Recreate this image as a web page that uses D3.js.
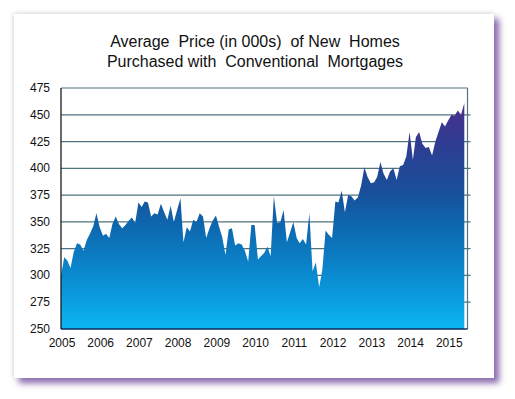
<!DOCTYPE html>
<html>
<head>
<meta charset="utf-8">
<script src="https://cdn.jsdelivr.net/npm/d3@7"></script>
<style>
  html, body { margin: 0; padding: 0; background: #fff; }
  svg { display: block; font-family: Arial, "Liberation Sans", sans-serif; }
</style>
</head>
<body>
<div id="chart"></div>
<script>
// monthly average price (000s), Jan 2005 .. Jun 2015
const prices2005 = [300, 317, 314, 307, 322, 330, 329, 323, 333, 339, 346, 358];
const prices2006 = [345, 337, 339, 335, 348, 355, 348, 344, 347, 351, 354, 349];
const prices2007 = [368, 364, 369, 368, 355, 358, 357, 367, 359, 352, 365, 350];
const prices2008 = [361, 372, 331, 345, 341, 352, 350, 358, 355, 335, 344, 351];
const prices2009 = [356, 345, 336, 319, 343, 344, 328, 330, 329, 323, 313, 347];
const prices2010 = [347, 315, 318, 321, 327, 318, 374, 349, 350, 361, 331, 340];
const prices2011 = [350, 335, 330, 334, 329, 358, 304, 312, 289, 305, 342, 338];
const prices2012 = [335, 369, 368, 379, 359, 375, 374, 370, 373, 384, 401, 392];
const prices2013 = [386, 387, 392, 406, 395, 389, 397, 400, 389, 402, 403, 411];
const prices2014 = [434, 408, 429, 434, 423, 419, 420, 412, 425, 434, 443, 439];
const prices2015 = [445, 450, 449, 454, 450, 461];

const years = [2005, 2006, 2007, 2008, 2009, 2010, 2011, 2012, 2013, 2014, 2015];
const yTicks = [250, 275, 300, 325, 350, 375, 400, 425, 450, 475];
const titleLines = ["Average  Price (in 000s)  of New  Homes", "Purchased with  Conventional  Mortgages"];

const allPrices = [].concat(prices2005, prices2006, prices2007, prices2008, prices2009,
  prices2010, prices2011, prices2012, prices2013, prices2014, prices2015);
const data = allPrices.map((v, i) => ({ date: new Date(2005, i, 1), value: v }));

const width = 515, height = 399;
const plot = { left: 61, right: 467.5, top: 88, bottom: 329 };

const svg = d3.select("#chart").append("svg")
  .attr("width", width)
  .attr("height", height);

const defs = svg.append("defs");

// 卡片阴影：左上浅灰，右下紫色
const shadow = defs.append("filter")
  .attr("id", "cardShadow")
  .attr("x", "-10%").attr("y", "-10%")
  .attr("width", "120%").attr("height", "120%");
shadow.append("feDropShadow")
  .attr("dx", -1).attr("dy", -1)
  .attr("stdDeviation", 2.5)
  .attr("flood-color", "#999")
  .attr("flood-opacity", 0.3);
shadow.append("feDropShadow")
  .attr("dx", 5).attr("dy", 5)
  .attr("stdDeviation", 3.2)
  .attr("flood-color", "#7b5aa6")
  .attr("flood-opacity", 0.9);

svg.append("rect")
  .attr("x", 14).attr("y", 14)
  .attr("width", 480).attr("height", 364)
  .attr("fill", "white")
  .attr("filter", "url(#cardShadow)");

const x = d3.scaleTime()
  .domain([new Date(2005, 0, 1), new Date(2015, 6, 1)])
  .range([plot.left, plot.right]);

const y = d3.scaleLinear()
  .domain([250, 475])
  .range([plot.bottom, plot.top]);

// 面积的竖向渐变
const grad = defs.append("linearGradient")
  .attr("id", "areaGrad")
  .attr("gradientUnits", "userSpaceOnUse")
  .attr("x1", 0).attr("x2", 0)
  .attr("y1", y(250)).attr("y2", y(465));
[
  [0, "#0bb6f2"],
  [0.22, "#0a8cd2"],
  [0.45, "#0d67ae"],
  [0.6, "#194f9a"],
  [0.8, "#2e3d92"],
  [1, "#4c2c8b"]
].forEach(([o, c]) => grad.append("stop").attr("offset", o).attr("stop-color", c));

// 网格线（在面积下方）
svg.append("g")
  .selectAll("line")
  .data(yTicks.filter(d => d > 250 && d < 475))
  .enter()
  .append("line")
  .attr("x1", plot.left)
  .attr("x2", plot.right + 3)
  .attr("y1", d => y(d))
  .attr("y2", d => y(d))
  .attr("stroke", "#4f747e")
  .attr("stroke-width", 1.2);

const area = d3.area()
  .x(d => x(d.date))
  .y0(y(250))
  .y1(d => y(d.value));

svg.append("path")
  .datum(data)
  .attr("d", area)
  .attr("fill", "url(#areaGrad)");

// 边框
const frame = [
  [plot.left, plot.top, plot.right, plot.top, "#4f747e", 1.2],
  [plot.right, plot.top, plot.right, plot.bottom, "#4f747e", 1.2],
  [plot.left, plot.top, plot.left, plot.bottom, "#1b1b1b", 1.3],
  [plot.left, plot.bottom, plot.right, plot.bottom, "#0b2a66", 1.5]
];
svg.append("g")
  .selectAll("line")
  .data(frame)
  .enter()
  .append("line")
  .attr("x1", d => d[0]).attr("y1", d => d[1])
  .attr("x2", d => d[2]).attr("y2", d => d[3])
  .attr("stroke", d => d[4])
  .attr("stroke-width", d => d[5]);

// y 轴标签
svg.append("g")
  .selectAll("text")
  .data(yTicks)
  .enter()
  .append("text")
  .attr("x", 50)
  .attr("y", d => y(d) + 4)
  .attr("text-anchor", "end")
  .attr("font-size", "12px")
  .attr("fill", "#111")
  .text(d => d);

// x 轴标签
svg.append("g")
  .selectAll("text")
  .data(years)
  .enter()
  .append("text")
  .attr("x", d => x(new Date(d, 0, 1)) + 1)
  .attr("y", 347)
  .attr("text-anchor", "middle")
  .attr("font-size", "12px")
  .attr("fill", "#111")
  .text(d => d);

// 标题
svg.append("g")
  .selectAll("text")
  .data(titleLines)
  .enter()
  .append("text")
  .attr("x", 255)
  .attr("y", (d, i) => 47 + i * 20)
  .attr("text-anchor", "middle")
  .attr("font-size", "16px")
  .attr("fill", "#111")
  .style("white-space", "pre")
  .text(d => d);
</script>
</body>
</html>
